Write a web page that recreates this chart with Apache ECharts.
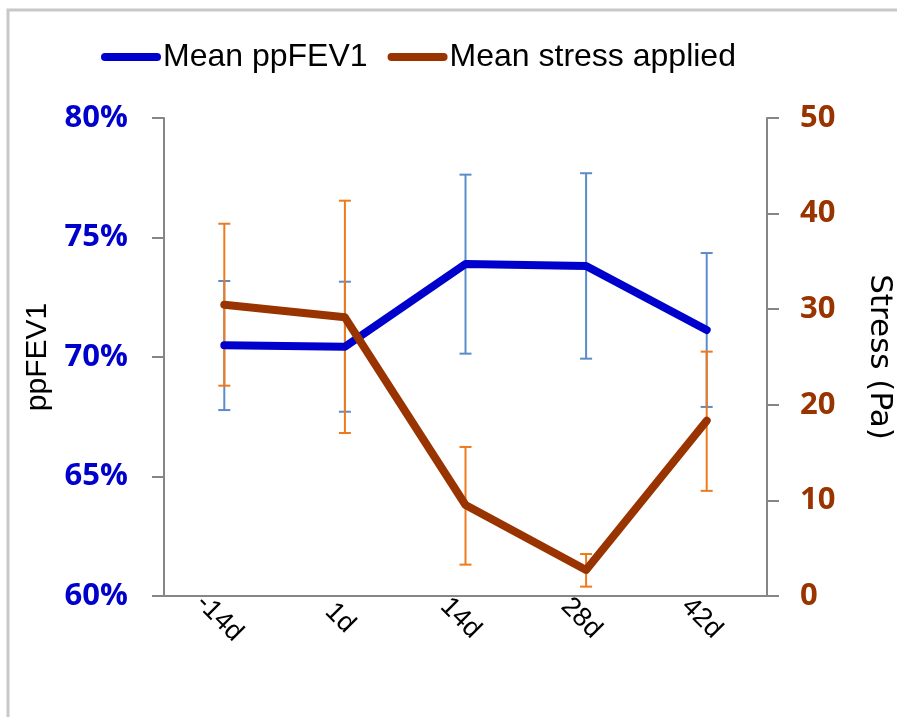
<!DOCTYPE html>
<html>
<head>
<meta charset="utf-8">
<script src="https://cdn.jsdelivr.net/npm/echarts@6/dist/echarts.min.js"></script>
<style>
html,body{margin:0;padding:0;background:#fff;}
#chart{width:897px;height:717px;}
</style>
</head>
<body>
<div id="chart"></div>
<script>
const categories = ['-14d', '1d', '14d', '28d', '42d'];
const ppMean = [70.49, 70.43, 73.89, 73.81, 71.13];
const ppHigh = [73.18, 73.15, 77.63, 77.69, 74.35];
const ppLow  = [67.78, 67.71, 70.14, 69.93, 67.91];
const stressMean = [30.47, 29.15, 9.52, 2.72, 18.34];
const stressHigh = [38.94, 41.35, 15.59, 4.39, 25.56];
const stressLow  = [22.0, 17.05, 3.28, 0.98, 11.0];
const leftTicks = {min: 60, max: 80, interval: 5};
const rightTicks = {min: 0, max: 50, interval: 10};

const FONT = "'Liberation Sans', sans-serif";
const BOLD = "'Open Sans', 'Liberation Sans', sans-serif";

function errData(hi, lo) {
  return categories.map((c, i) => [i, lo[i], hi[i]]);
}
function errRender(color) {
  return function (params, api) {
    const x = api.value(0);
    const lo = api.coord([x, api.value(1)]);
    const hi = api.coord([x, api.value(2)]);
    const cap = 6;
    const st = {stroke: color, lineWidth: 2};
    return {
      type: 'group',
      children: [
        {type: 'line', shape: {x1: hi[0], y1: hi[1], x2: lo[0], y2: lo[1]}, style: st},
        {type: 'line', shape: {x1: hi[0] - cap, y1: hi[1], x2: hi[0] + cap, y2: hi[1]}, style: st},
        {type: 'line', shape: {x1: lo[0] - cap, y1: lo[1], x2: lo[0] + cap, y2: lo[1]}, style: st}
      ]
    };
  };
}

const chart = echarts.init(document.getElementById('chart'), null, {renderer: 'canvas'});
const capsule = 'path://M4,0 H56 A4,4 0 0 1 56,8 H4 A4,4 0 0 1 4,0 Z';
chart.setOption({
  animation: false,
  backgroundColor: '#fff',
  graphic: [{
    type: 'rect', shape: {x: 8, y: 10, width: 1000, height: 800},
    style: {fill: 'none', stroke: '#c8c8c8', lineWidth: 3}, silent: true
  }],
  legend: {
    left: 96, top: 36, itemWidth: 60, itemHeight: 8, itemGap: 20,
    textStyle: {fontFamily: FONT, fontSize: 32, color: '#000', padding: [0, 0, 0, -3]},
    data: [
      {name: 'Mean ppFEV1', icon: capsule},
      {name: 'Mean stress applied', icon: capsule}
    ]
  },
  grid: {left: 164, right: 130, top: 118, bottom: 121, containLabel: false, outerBoundsMode: 'none'},
  xAxis: {
    type: 'category', data: categories, boundaryGap: true,
    axisLine: {lineStyle: {color: '#868686', width: 2}},
    axisTick: {show: false},
    axisLabel: {rotate: -45, color: '#000', fontFamily: FONT, fontSize: 27, margin: 27,
      align: 'center', verticalAlign: 'middle', padding: [0, 14, 0, 0]}
  },
  yAxis: [{
    type: 'value', position: 'left', min: leftTicks.min, max: leftTicks.max, interval: leftTicks.interval,
    name: 'ppFEV1', nameLocation: 'middle', nameGap: 111, nameRotate: 90,
    nameTextStyle: {fontFamily: FONT, fontSize: 30, color: '#000'},
    axisLine: {show: true, lineStyle: {color: '#868686', width: 2}},
    axisTick: {show: true, length: 12, lineStyle: {color: '#868686', width: 2}},
    splitLine: {show: false},
    axisLabel: {formatter: '{value}%', color: '#0000CC', fontFamily: BOLD, fontWeight: 'bold', fontSize: 31, margin: 36}
  }, {
    type: 'value', position: 'right', min: rightTicks.min, max: rightTicks.max, interval: rightTicks.interval,
    name: 'Stress (Pa)', nameLocation: 'middle', nameGap: 97, nameRotate: -90,
    nameTextStyle: {fontFamily: "'DejaVu Sans', sans-serif", fontSize: 31, color: '#000'},
    axisLine: {show: true, lineStyle: {color: '#868686', width: 2}},
    axisTick: {show: true, length: 12, lineStyle: {color: '#868686', width: 2}},
    splitLine: {show: false},
    axisLabel: {color: '#993300', fontFamily: BOLD, fontWeight: 'bold', fontSize: 31, margin: 33}
  }],
  series: [{
    name: 'ppFEV1 error', type: 'custom', yAxisIndex: 0, z: 1,
    renderItem: errRender('#5B8CC8'), data: errData(ppHigh, ppLow)
  }, {
    name: 'stress error', type: 'custom', yAxisIndex: 1, z: 1,
    renderItem: errRender('#EE7A1E'), data: errData(stressHigh, stressLow)
  }, {
    name: 'Mean ppFEV1', type: 'line', yAxisIndex: 0, data: ppMean, z: 3,
    showSymbol: false, symbol: 'none', color: '#0000CC',
    lineStyle: {color: '#0000CC', width: 8, cap: 'round', join: 'round'}
  }, {
    name: 'Mean stress applied', type: 'line', yAxisIndex: 1, data: stressMean, z: 4,
    showSymbol: false, symbol: 'none', color: '#993300',
    lineStyle: {color: '#993300', width: 8, cap: 'round', join: 'round'}
  }]
});
</script>
</body>
</html>
